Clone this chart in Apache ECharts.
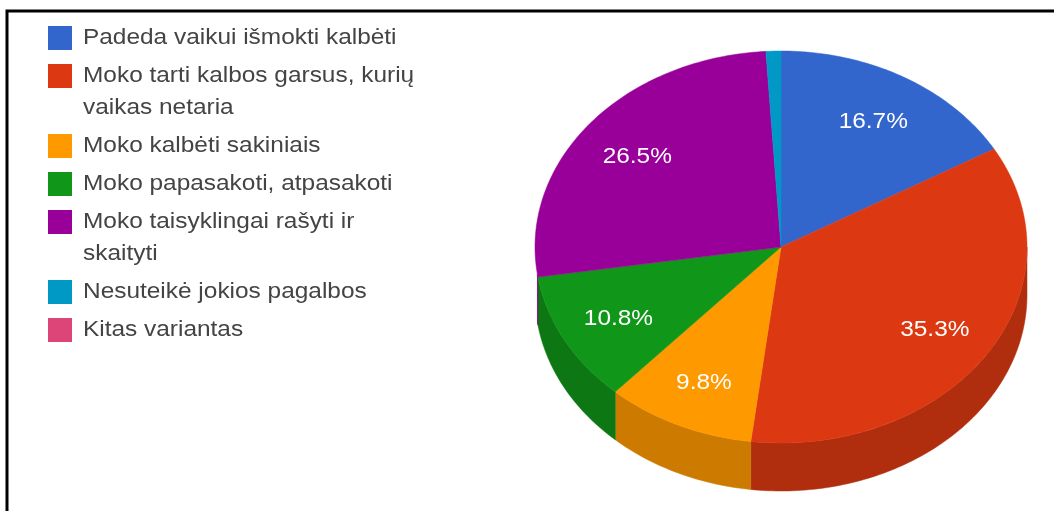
<!DOCTYPE html>
<html>
<head>
<meta charset="utf-8">
<style>html,body{margin:0;padding:0;background:#fff}#c{width:1054px;height:511px}</style>
<script src="https://cdn.jsdelivr.net/npm/echarts@6/dist/echarts.min.js"></script>
</head>
<body>
<div id="c"></div>
<script>
const categories = ['Padeda vaikui išmokti kalbėti','Moko tarti kalbos garsus, kurių\nvaikas netaria','Moko kalbėti sakiniais','Moko papasakoti, atpasakoti','Moko taisyklingai rašyti ir\nskaityti','Nesuteikė jokios pagalbos','Kitas variantas'];
const counts = [17,36,10,11,27,1,0];
const colors = ['#3366cc','#dc3912','#ff9900','#109618','#990099','#0099c6','#dd4477'];
const sideColors = ['#264d99','#b02e0e','#cc7a00','#0d7813','#730073','#007394','#a63359'];

const total = counts.reduce((a,b)=>a+b,0);
const CX=781, CY=247, RX=246, RY=196, DEPTH=48, LABEL_R=0.75, STEP=Math.PI/180;
const WALL_START=Math.PI/2, WALL_END=262*Math.PI/180;
const FONT='"Liberation Sans", Arial, sans-serif';
const TEXT_STRETCH=1.11;
const pt=(a,dy)=>[CX+RX*Math.sin(a), CY-RY*Math.cos(a)+(dy||0)];
function arc(a0,a1,dy){
  const out=[]; const n=Math.max(2,Math.ceil((a1-a0)/STEP));
  for(let i=0;i<=n;i++) out.push(pt(a0+(a1-a0)*i/n,dy));
  return out;
}
function renderItem(params, api){
  const i=params.dataIndex, v=api.value(0);
  if(!v) return {type:'group',children:[]};
  const before=counts.slice(0,i).reduce((a,b)=>a+b,0);
  const a0=before/total*2*Math.PI, a1=(before+v)/total*2*Math.PI;
  const children=[];
  const s0=Math.max(a0,WALL_START), s1=Math.min(a1,WALL_END);
  if(s1>s0){
    children.push({type:'polygon',z2:1,shape:{points:arc(s0,s1,0).concat(arc(s0,s1,DEPTH).reverse())},
      style:{fill:sideColors[i],stroke:sideColors[i],lineWidth:0.5}});
  }
  children.push({type:'polygon',z2:2,shape:{points:[[CX,CY]].concat(arc(a0,a1,0))},
    style:{fill:colors[i],stroke:colors[i],lineWidth:0.5}});
  const pct=v/total*100;
  if(pct>=5){
    const m=(a0+a1)/2;
    children.push({type:'text',z2:3,
      x:CX+RX*LABEL_R*Math.sin(m), y:CY-RY*LABEL_R*Math.cos(m)+2, scaleX:TEXT_STRETCH,
      style:{text:pct.toFixed(1)+'%',x:0,y:0,
      align:'center',verticalAlign:'middle',fill:'#fff',font:'22px '+FONT}});
  }
  return {type:'group',children};
}
const legendEls=[]; let rowY=26;
categories.forEach((name,i)=>{
  legendEls.push({type:'rect',shape:{x:48,y:rowY,width:24,height:24},style:{fill:colors[i]}});
  const lines=name.split('\n');
  lines.forEach((ln,k)=>{
    legendEls.push({type:'text',x:83,y:rowY+12+k*32,scaleX:TEXT_STRETCH,
      style:{text:ln,x:0,y:0,align:'left',verticalAlign:'middle',fill:'#444',font:'22px '+FONT}});
  });
  rowY+=38+(lines.length-1)*32;
});
const chart=echarts.init(document.getElementById('c'),null,{renderer:'canvas'});
chart.setOption({
  backgroundColor:'#fff',
  animation:false,
  graphic:{elements:[
    {type:'polyline',shape:{points:[[7,511],[7,11],[1054,11]]},style:{stroke:'#000',lineWidth:3,fill:'none'}},
    ...legendEls
  ]},
  series:[{type:'custom',coordinateSystem:'none',renderItem,data:counts.map(v=>[v]),encode:{value:0},silent:true}]
});
</script>
</body>
</html>
